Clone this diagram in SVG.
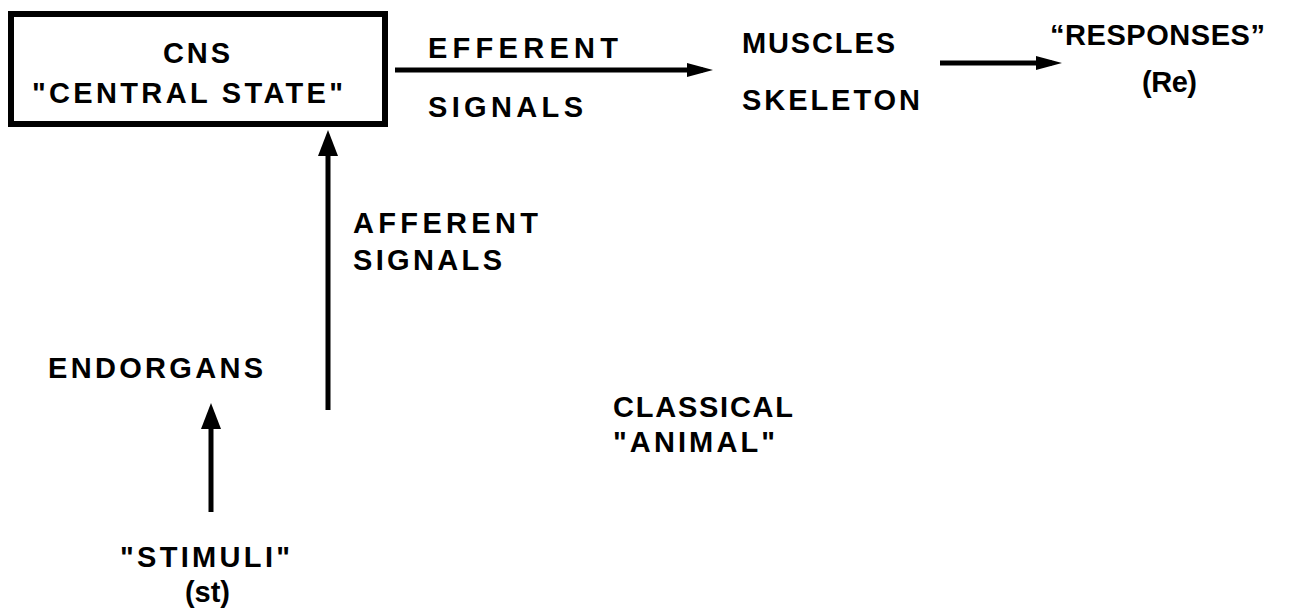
<svg xmlns="http://www.w3.org/2000/svg" width="1290" height="610" viewBox="0 0 1290 610">
  <style>
    .t { font-family: "Liberation Sans", Arial, sans-serif; font-weight: bold; font-size: 29px; fill: #000; }
    .box { fill: #fff; stroke: #000; stroke-width: 6; }
    .conn { stroke: #000; stroke-width: 5; fill: none; }
  </style>
  <defs>
    <marker id="arrow" markerUnits="userSpaceOnUse" markerWidth="30" markerHeight="20" viewBox="0 0 30 20" refX="16" refY="10" orient="auto">
      <path d="M0,3 L26,10 L0,17 z" fill="#000"/>
    </marker>
    <marker id="arrowWide" markerUnits="userSpaceOnUse" markerWidth="30" markerHeight="24" viewBox="0 0 30 24" refX="16" refY="12" orient="auto">
      <path d="M0,2 L26,12 L0,22 z" fill="#000"/>
    </marker>
  </defs>
  <rect width="1290" height="610" fill="#fff"/>

  <g id="connectors">
    <line class="conn" x1="395" y1="70" x2="703" y2="70" marker-end="url(#arrow)"/>
    <line class="conn" x1="940" y1="63" x2="1052" y2="63" marker-end="url(#arrow)"/>
    <line class="conn" x1="328" y1="410" x2="328" y2="140" stroke-width="6" marker-end="url(#arrowWide)"/>
    <line class="conn" x1="211" y1="512" x2="211" y2="413" marker-end="url(#arrowWide)"/>
  </g>

  <g id="cns">
    <rect class="box" x="11" y="14" width="374" height="110"/>
    <text class="t" x="163" y="63" textLength="67" lengthAdjust="spacing">CNS</text>
    <text class="t" x="32" y="103" textLength="311" lengthAdjust="spacing">"CENTRAL STATE"</text>
  </g>

  <g id="efferent-label">
    <text class="t" x="428" y="58" textLength="190" lengthAdjust="spacing">EFFERENT</text>
    <text class="t" x="428" y="117" textLength="155" lengthAdjust="spacing">SIGNALS</text>
  </g>

  <g id="muscles">
    <text class="t" x="742" y="53" textLength="153" lengthAdjust="spacing">MUSCLES</text>
    <text class="t" x="742" y="110" textLength="178" lengthAdjust="spacing">SKELETON</text>
  </g>

  <g id="responses">
    <text class="t" x="1050" y="45" textLength="215" lengthAdjust="spacing">“RESPONSES”</text>
    <text class="t" x="1142" y="92" textLength="55" lengthAdjust="spacing">(Re)</text>
  </g>

  <g id="afferent-label">
    <text class="t" x="353" y="233" textLength="185" lengthAdjust="spacing">AFFERENT</text>
    <text class="t" x="353" y="270" textLength="149" lengthAdjust="spacing">SIGNALS</text>
  </g>

  <g id="endorgans">
    <text class="t" x="48" y="378" textLength="215" lengthAdjust="spacing">ENDORGANS</text>
  </g>

  <g id="stimuli">
    <text class="t" x="120" y="567" textLength="170" lengthAdjust="spacing">"STIMULI"</text>
    <text class="t" x="185" y="602" textLength="45" lengthAdjust="spacing">(st)</text>
  </g>

  <g id="classical-animal">
    <text class="t" x="613" y="417" textLength="180" lengthAdjust="spacing">CLASSICAL</text>
    <text class="t" x="613" y="452" textLength="162" lengthAdjust="spacing">"ANIMAL"</text>
  </g>
</svg>
